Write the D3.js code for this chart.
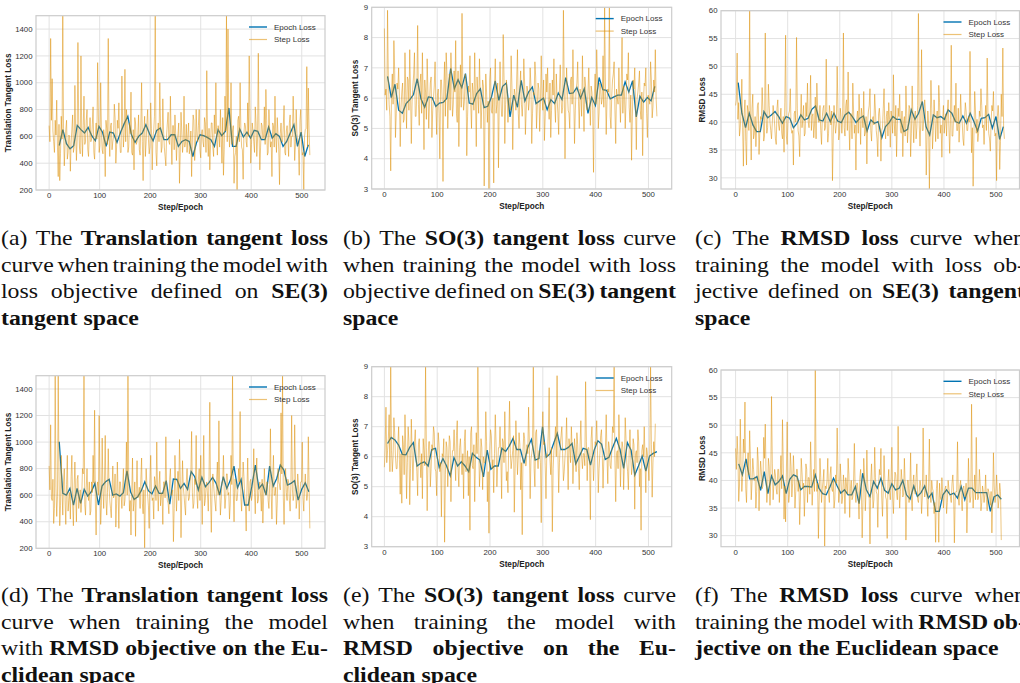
<!DOCTYPE html>
<html>
<head>
<meta charset="utf-8">
<script src="https://cdn.jsdelivr.net/npm/d3@7"></script>
<style>
    body { margin: 0; background: #fff; }
    svg { display: block; }
    .tick-label { font-family: "Liberation Sans", Arial, sans-serif; font-size: 7.8px; fill: #333; }
    .axis-label { font-family: "Liberation Sans", Arial, sans-serif; font-size: 8.2px; font-weight: bold; fill: #222; }
    .legend-label { font-family: "Liberation Sans", Arial, sans-serif; font-size: 8px; fill: #333; }
    .cap { font-family: "Liberation Serif", "Times New Roman", serif; font-size: 22px; fill: #111; }
</style>
</head>
<body>
<svg id="fig" width="1020" height="683"></svg>
<script>
// ---- data ----
// step losses are logged every 1.5 steps: "main" arrays at steps 0,3,6,...
// and "mid" arrays at steps 1.5,4.5,7.5,...
const stepInterval = 1.5;
const xTicks = [0, 100, 200, 300, 400, 500];
const transTicks = [200, 400, 600, 800, 1000, 1200, 1400];
const so3Ticks = [3, 4, 5, 6, 7, 8, 9];
const rmsdTicks = [30, 35, 40, 45, 50, 55, 60];
const seriesNames = ["Epoch Loss", "Step Loss"];

// (a) translation loss, SE(3) tangent objective
const stepA = [680,1330,1030,560,720,870,300,270,750,1500,
    380,650,430,610,340,650,480,980,420,1300,
    520,1200,450,900,560,800,450,740,580,820,
    430,700,1150,480,1000,500,650,300,660,1330,
    450,700,560,840,400,720,850,480,1050,520,
    1100,800,480,700,930,460,350,700,560,760,
    460,1000,270,750,560,800,470,850,350,640,
    1500,380,700,1000,480,880,520,380,700,560,
    900,390,680,760,420,620,250,780,480,900,
    560,480,700,520,300,760,420,800,560,800,
    440,650,520,700,1090,450,350,700,520,760,
    1000,460,620,800,400,310,900,1500,1400,520,
    1000,640,250,480,200,750,1000,520,280,700,
    560,850,1200,400,700,560,820,450,1220,350,
    700,580,820,950,460,800,520,300,680,900,
    480,620,240,700,560,830,460,680,450,760,
    600,900,420,800,560,310,800,460,200,650,
    1120,960,460];
const stepMidA = [560,720,640,480,610,520,690,470,580,660,
    530,720,480,600,550,760,520,640,580,700,
    470,610,680,540,720,500,630,560,690,480,
    610,580,760,530,640,470,600,720,540,620,
    680,500,600,740,520,660,590,480,700,630,
    560,700,520,620,480,650,740,540,610,500,
    680,560,630,450,700,580,520,660,600,750,
    480,620,560,700,520,640,450,610,780,540,
    600,680,500,620,560,700,480,640,560,520,
    690,600,470,640,580,720,520,610,680,500,
    620,560,740,480,600,660,540,700,450,620,
    580,680,520,600,740,500,640,560,700,620,
    540,680,450,600,720,560,640,500,620,680,
    520,600,760,540,640,480,700,580,620,520,
    680,600,540,720,480,640,560,700,520,600,
    740,500,620,560,680,480,640,580,700,520,
    600,680,540,620,500,720,560,480,600,660,
    520,640];
const epochA = [532,650,545,507,530,682,650,625,667,605,
    567,675,630,525,632,625,555,630,695,750,
    612,555,600,625,687,620,567,645,662,575,
    575,612,612,525,562,575,562,450,550,612,
    605,592,575,525,650,605,637,812,525,525,
    655,595,632,587,645,637,575,575,670,587,
    620,600,525,562,625,687,525,632,450,537];

// (b) SO(3) loss, SE(3) tangent objective
const stepB = [8.3,6.3,8.9,5.8,3.6,6.8,7.9,4.7,6.5,7.0,
    4.4,6.2,5.2,7.5,5.0,6.6,7.6,4.5,6.4,7.5,
    5.4,8.4,5.1,6.8,7.5,4.3,6.2,7.3,5.0,6.5,
    4.7,6.0,7.2,4.8,6.3,4.0,6.6,3.25,7.2,7.5,
    5.0,6.8,7.5,5.4,6.9,7.9,5.2,4.4,7.1,8.8,
    5.6,6.8,4.1,6.4,7.4,5.0,6.2,7.5,4.4,6.1,
    7.3,5.0,6.6,3.1,6.8,5.2,3.0,7.0,5.5,3.2,
    7.3,5.8,3.7,7.2,5.4,8.1,4.5,6.6,5.2,6.0,
    7.4,4.3,6.3,5.6,7.6,5.0,6.9,5.4,7.3,4.8,
    6.4,5.6,7.0,4.5,6.2,7.2,5.0,6.5,4.9,7.4,
    5.6,4.6,6.8,7.0,5.3,4.7,6.6,7.3,5.2,6.0,
    4.8,7.1,5.5,8.9,4.0,7.0,5.6,5.0,6.7,7.6,
    4.5,6.3,7.2,5.0,6.1,7.4,4.9,6.4,5.6,7.0,
    5.1,6.2,3.55,6.8,7.6,5.0,6.5,5.8,7.4,9.0,
    4.8,6.3,9.0,5.0,6.6,7.2,4.5,6.0,7.0,5.2,
    8.0,6.4,5.0,6.8,7.5,5.2,3.95,6.6,7.0,4.3,
    6.2,6.9,5.3,4.1,6.5,7.0,4.7,6.0,7.2,5.35,
    6.6,7.6,5.4];
const stepMidB = [6.1,5.6,6.6,5.4,6.2,5.8,6.9,5.5,6.3,6.0,
    5.7,6.5,5.3,6.1,6.7,5.6,6.2,5.9,6.8,5.4,
    6.3,5.8,6.5,5.5,6.0,6.6,5.3,6.2,5.9,6.7,
    5.6,6.4,5.8,6.1,5.5,6.6,5.9,6.3,5.4,6.8,
    6.0,5.6,6.5,5.8,6.2,5.5,6.9,6.1,5.7,6.4,
    5.9,6.6,5.4,6.2,5.8,6.5,5.6,6.0,6.7,5.5,
    6.1,5.8,6.4,5.3,6.2,5.9,6.6,5.6,6.0,6.3,
    5.5,6.5,5.9,6.1,5.4,6.7,5.8,6.2,6.0,5.6,
    6.4,5.7,6.1,6.6,5.5,6.3,5.8,6.0,6.5,5.6,
    6.2,5.9,6.4,5.5,6.1,6.7,5.7,6.3,5.8,6.0,
    6.6,5.4,6.2,5.9,6.5,5.6,6.1,5.8,6.8,5.5,
    6.3,6.0,5.7,6.4,5.9,6.2,5.5,6.6,5.8,6.1,
    5.6,6.5,5.9,6.3,5.4,6.0,6.7,5.7,6.2,5.9,
    6.4,5.6,6.1,5.8,6.6,5.5,6.3,6.0,5.7,6.5,
    5.9,6.2,5.4,6.1,6.8,5.6,6.3,5.8,6.0,6.4,
    5.5,6.2,5.9,6.6,5.7,6.1,5.4,6.3,5.8,6.0,
    6.5,5.6,6.2,5.9,6.4,5.5,6.1,5.8,6.6,5.7,
    6.2,6.0];
const epochB = [6.72,6.02,6.46,5.6,5.5,5.82,5.95,6.12,6.64,5.98,
    5.7,6.04,6.02,5.73,5.84,5.86,6.0,6.98,6.31,6.61,
    6.35,6.81,5.84,5.8,6.15,6.31,5.69,5.73,6.04,6.57,
    5.93,6.39,6.5,5.38,6.1,5.7,6.59,5.91,6.2,6.37,
    5.82,5.91,6.0,5.62,5.95,5.82,6.17,5.95,6.68,6.15,
    6.17,6.35,6.0,6.31,5.5,6.02,5.76,6.68,6.28,6.26,
    5.98,6.04,6.1,6.1,6.54,6.2,6.57,5.38,6.06,5.87,
    6.02,5.91,6.39];

// (c) RMSD loss, SE(3) tangent objective
const stepC = [43.0,52.4,43.5,39.0,47.7,32.1,44.0,32.3,42.0,60.0,
    33.2,45.0,38.0,35.6,43.0,34.2,41.0,46.2,36.6,56.0,
    38.0,46.8,40.0,37.0,43.0,39.5,36.0,44.0,38.5,42.5,
    37.0,34.6,55.6,36.0,41.5,46.0,38.0,32.3,42.0,55.2,
    38.5,33.8,45.0,40.5,37.5,43.5,47.0,39.0,48.4,41.0,
    37.2,44.5,47.0,40.0,43.0,36.0,42.5,38.5,51.3,36.4,
    43.0,39.5,29.5,43.0,38.0,50.0,36.8,42.5,38.0,56.0,
    37.5,44.0,49.0,35.0,41.5,47.0,38.0,31.4,42.0,45.0,
    36.0,41.0,45.5,38.0,32.5,42.0,46.0,36.6,41.0,45.0,
    38.5,33.8,42.5,33.0,39.0,46.0,37.0,42.0,43.5,35.5,
    40.5,48.5,37.5,33.8,42.5,45.0,38.0,33.8,41.0,46.5,
    36.3,43.0,33.8,46.5,36.3,42.0,39.0,59.5,35.7,53.0,
    38.5,44.0,30.5,42.0,28.0,47.5,35.2,44.0,36.5,42.0,
    46.6,38.0,33.7,43.0,40.0,37.5,44.0,34.4,53.8,37.5,
    43.0,47.0,38.5,36.4,45.0,40.0,35.8,43.5,38.5,41.0,
    52.7,34.5,28.5,45.5,38.0,36.5,42.0,46.0,39.0,36.0,
    43.0,51.5,38.0,34.8,43.0,45.5,37.5,29.5,43.0,31.5,
    45.0,53.3,37.0];
const stepMidC = [44.0,40.5,37.5,42.0,39.0,41.5,36.5,43.0,38.5,40.0,
    42.5,37.0,41.0,39.5,43.5,38.0,40.5,42.0,37.5,41.0,
    39.0,43.0,38.5,40.0,41.5,37.0,42.5,39.5,40.5,38.0,
    41.0,43.5,37.5,40.0,42.0,39.0,38.5,41.5,40.0,42.5,
    37.5,40.5,39.0,43.0,38.0,41.0,40.0,42.0,38.5,41.5,
    39.5,37.0,42.5,40.0,38.5,41.0,43.0,39.0,40.5,38.0,
    41.5,42.0,37.5,40.0,39.5,42.5,38.0,41.0,40.5,39.0,
    43.0,38.5,40.0,41.5,37.0,42.0,39.5,40.5,38.0,41.0,
    42.5,39.0,37.5,41.0,40.0,43.0,38.5,40.5,39.5,42.0,
    37.0,41.5,40.0,38.5,42.5,39.0,41.0,37.5,40.5,42.0,
    38.0,40.0,43.0,39.5,41.0,38.5,42.0,40.0,37.5,41.5,
    39.0,42.5,38.0,40.5,41.0,37.0,43.0,39.5,40.0,38.5,
    41.5,42.0,37.5,40.0,39.0,42.5,38.5,41.0,40.5,37.0,
    43.5,39.5,40.0,38.0,41.5,42.0,39.0,40.5,37.5,41.0,
    40.0,38.5,42.5,39.5,41.0,37.0,40.5,42.0,38.5,40.0,
    41.5,39.0,37.5,42.0,40.5,38.0,41.0,43.0,39.5,40.0,
    38.5,41.5,37.0,40.0,42.0,39.0,38.0,41.0,40.5,36.5,
    41.0,39.0];
const epochC = [47.1,41.6,39.0,41.6,39.5,38.3,38.3,41.9,40.8,41.3,
    41.9,41.0,39.8,41.0,40.7,39.0,39.8,41.3,40.4,40.7,
    42.3,42.9,40.4,40.2,41.6,40.1,41.6,40.2,39.9,41.3,
    41.8,41.0,39.9,40.7,41.1,38.4,40.4,39.8,40.1,37.2,
    39.2,39.9,41.0,40.5,40.5,38.3,38.7,42.2,40.5,41.6,
    43.7,39.2,37.7,41.3,40.8,41.0,40.5,42.2,41.6,40.1,
    39.8,41.1,39.8,41.6,40.1,38.4,40.7,40.8,41.4,38.9,
    41.0,36.9,39.2];

// (d) translation loss, RMSD objective
const stepD = [820,1130,560,387,1500,440,1500,370,900,450,
    800,380,900,560,420,900,370,850,400,750,
    560,470,800,1500,450,800,560,450,700,900,
    1240,300,700,1200,380,1030,500,1050,450,950,
    560,430,820,600,360,850,350,700,500,800,
    560,1000,1500,480,300,880,560,290,860,600,
    500,880,460,200,800,600,350,900,560,420,
    700,1000,480,780,600,380,700,1040,560,460,
    800,600,250,900,480,780,1020,280,860,600,
    450,800,560,700,1080,500,720,1050,500,800,
    900,380,1050,560,700,480,1300,320,760,600,
    480,850,1160,450,700,900,500,760,600,420,
    900,1500,400,720,560,800,1230,480,850,600,
    330,880,480,720,600,950,460,880,560,700,
    480,390,800,600,700,500,1100,420,900,600,
    380,800,680,1220,1500,380,800,560,700,480,
    1200,560,1130,500,760,420,700,1000,480,760,
    560,1040,350];
const stepMidD = [640,580,720,500,660,590,780,520,640,700,
    560,680,480,620,740,540,660,600,720,500,
    640,580,760,530,660,610,700,480,620,690,
    540,660,600,740,520,640,700,560,620,680,
    500,640,580,760,540,620,700,600,660,520,
    680,600,740,560,620,480,700,640,580,660,
    720,540,640,600,680,520,700,620,580,740,
    560,640,680,520,620,700,580,660,540,720,
    600,640,500,680,620,560,740,600,660,520,
    700,640,580,760,620,540,680,600,720,560,
    640,700,520,660,600,740,580,640,680,540,
    720,600,660,560,700,640,580,760,620,540,
    680,620,720,560,640,700,580,660,740,520,
    640,600,700,560,680,620,760,540,660,600,
    720,580,640,700,560,680,620,740,600,660,
    540,700,640,760,580,660,620,720,560,680,
    640,600,720,560,680,620,700,580,660,640,
    600,680];
const epochD = [1003,614,601,651,526,651,538,644,593,626,
    689,526,669,701,719,601,609,593,619,784,
    626,568,588,634,701,634,609,669,614,614,
    709,533,722,719,651,689,644,777,739,639,
    734,664,694,734,689,601,739,651,714,819,
    656,719,526,526,664,827,651,684,601,819,
    669,726,827,789,676,689,709,563,644,694,
    626];

// (e) SO(3) loss, RMSD objective
const stepE = [5.65,7.65,6.2,7.4,9.0,5.5,7.3,6.0,5.6,7.0,
    4.75,4.45,6.4,7.4,4.6,7.0,4.4,7.25,5.2,6.5,
    6.0,4.7,6.6,5.3,4.6,6.2,9.0,4.2,6.5,5.0,
    6.4,7.0,5.6,4.7,6.8,5.5,4.0,6.0,3.15,6.5,
    5.0,6.7,4.5,6.2,6.9,5.2,7.2,5.0,6.6,5.4,
    4.6,6.9,5.8,4.7,3.55,7.0,5.6,4.5,6.8,9.0,
    5.0,6.6,4.9,5.8,7.5,4.5,3.45,6.9,5.6,4.8,
    7.4,5.0,6.3,7.0,4.6,6.5,7.5,5.2,4.8,7.85,
    5.6,6.2,4.15,7.2,5.4,6.8,4.9,3.4,6.8,5.7,
    6.4,7.65,4.6,6.1,9.0,5.0,6.9,5.6,6.2,3.8,
    7.5,6.5,4.6,6.0,8.3,5.4,3.5,6.2,7.0,8.7,
    4.8,6.4,7.0,5.2,6.0,7.3,4.9,6.3,7.0,5.1,
    6.6,5.5,6.4,4.9,7.2,5.6,6.1,8.5,5.2,6.3,
    3.9,7.0,5.2,6.5,7.2,4.8,6.1,6.9,4.95,6.0,
    7.4,5.1,6.3,5.6,7.0,9.0,4.5,6.2,7.4,5.0,
    6.5,4.9,7.3,5.8,4.9,6.9,5.4,6.6,4.25,6.2,
    6.9,5.0,3.55,6.4,7.0,4.8,6.1,5.2,9.0,4.65,
    6.5,7.1];
const stepMidE = [6.3,5.8,6.6,5.5,6.2,6.0,6.8,5.6,6.4,5.9,
    6.1,6.7,5.4,6.3,5.8,6.5,5.6,6.2,6.0,6.9,
    5.5,6.4,5.9,6.1,6.6,5.7,6.3,5.8,6.5,5.6,
    6.2,6.8,5.5,6.0,6.4,5.8,6.1,6.6,5.4,6.3,
    5.9,6.5,5.7,6.2,6.0,6.7,5.6,6.3,5.9,6.1,
    6.5,5.5,6.2,6.0,6.8,5.7,6.4,5.9,6.1,6.6,
    5.6,6.3,6.0,5.8,6.5,5.5,6.2,6.7,5.9,6.1,
    6.4,5.7,6.3,6.0,6.6,5.8,6.2,5.5,6.5,6.1,
    5.9,6.7,5.6,6.3,6.0,6.4,5.8,6.2,6.6,5.7,
    6.1,6.5,5.9,6.3,5.6,6.8,6.0,6.2,5.8,6.6,
    6.4,5.7,6.1,6.9,5.9,6.3,5.6,6.5,6.0,6.2,
    5.8,6.7,6.1,5.5,6.4,6.0,6.6,5.8,6.3,5.9,
    6.2,6.8,5.6,6.4,6.0,6.1,5.7,6.5,6.3,5.9,
    6.6,6.0,5.8,6.4,6.2,5.6,6.7,6.1,5.9,6.3,
    6.0,6.5,5.7,6.2,6.8,5.9,6.1,5.6,6.4,6.0,
    6.3,5.8,6.6,5.5,6.2,6.0,5.7,6.4,6.1,5.8,
    6.5,5.6,6.2,6.0,5.9,6.3,5.7,6.1,6.4,5.8,
    6.0];
const epochE = [6.44,6.64,6.56,6.39,6.08,6.06,6.31,6.47,5.69,5.78,
    5.83,5.69,6.24,6.28,5.64,5.94,5.69,5.36,5.97,5.69,
    5.83,5.69,5.5,6.11,5.98,5.89,5.33,6.22,5.58,5.69,
    5.69,6.28,6.17,6.36,6.61,6.24,6.24,5.78,6.31,6.58,
    5.89,5.94,7.0,5.98,6.09,6.44,6.78,6.24,6.24,6.31,
    6.44,5.76,6.02,6.28,6.24,5.72,6.22,6.53,6.42,5.91,
    5.98,6.31,6.61,6.24,5.61,6.47,6.22,5.39,5.69,6.02,
    5.52,6.02,6.11,6.17];

// (f) RMSD loss, RMSD objective
const stepF = [45.8,48.0,36.2,51.1,38.0,47.5,54.2,36.0,45.0,49.0,
    36.5,44.0,40.0,35.0,46.0,34.5,43.5,38.5,47.8,50.2,
    36.0,44.0,35.5,55.2,36.5,42.0,38.5,42.0,36.0,44.5,
    51.0,33.0,32.5,50.6,36.0,45.0,37.0,44.5,35.0,42.0,
    38.0,32.0,44.0,38.5,33.5,43.0,36.0,40.5,47.0,35.5,
    42.0,60.0,38.0,29.5,44.0,36.0,40.0,28.0,38.5,44.0,
    36.0,42.5,38.0,35.0,41.0,49.5,36.0,43.0,35.8,41.0,
    34.0,39.0,44.0,33.3,40.0,37.0,46.7,36.0,39.5,33.0,
    42.0,29.6,44.0,34.5,45.5,37.0,28.5,43.0,35.0,46.0,
    38.0,31.5,42.0,45.8,33.5,44.5,37.0,29.5,42.0,36.5,
    46.0,34.0,41.5,38.0,49.8,35.0,42.0,37.0,44.0,29.2,
    40.0,36.0,45.0,34.5,41.0,37.5,43.0,36.0,40.0,34.0,
    49.5,37.0,41.0,33.5,47.5,36.0,38.5,34.0,28.8,40.0,
    28.8,37.0,40.5,35.0,38.5,34.0,40.0,37.5,36.0,41.0,
    28.7,38.0,47.0,35.5,40.0,34.5,39.0,37.0,30.5,44.0,
    36.0,53.8,35.0,41.0,47.8,36.5,42.0,34.5,39.0,36.0,
    41.0,34.5,38.0,35.5,30.5,45.0,36.0,41.0,35.0,39.5,
    29.2];
const stepMidF = [42.0,44.5,39.0,43.0,40.5,45.0,38.5,42.5,41.0,44.0,
    39.5,42.0,40.5,38.0,43.5,40.0,41.5,39.0,44.0,41.0,
    38.5,42.5,40.0,43.0,39.5,41.0,37.5,42.0,40.5,38.5,
    43.0,39.0,41.5,40.0,37.5,42.5,39.5,41.0,38.0,42.0,
    40.0,37.0,41.5,39.5,38.0,42.0,40.5,37.5,41.0,39.0,
    38.0,41.5,39.5,37.0,40.5,38.5,42.0,39.0,40.0,37.5,
    41.0,38.5,40.0,36.5,39.5,41.5,38.0,40.0,37.0,39.0,
    40.5,37.5,41.0,38.5,36.5,40.0,38.0,39.5,37.0,40.5,
    38.5,36.0,41.0,38.0,39.5,37.0,40.0,38.5,36.5,40.5,
    37.5,39.0,41.0,37.0,38.5,40.0,36.5,39.5,38.0,40.5,
    37.0,38.5,41.0,36.5,39.0,38.0,40.0,37.5,39.5,36.5,
    40.0,38.5,37.0,39.5,38.0,40.5,36.5,38.0,39.0,37.0,
    39.5,38.0,36.5,39.0,37.5,40.0,38.0,36.0,38.5,37.0,
    39.5,36.5,38.0,37.5,39.0,36.0,38.5,37.0,39.5,38.0,
    36.5,38.0,37.0,39.0,36.5,38.5,37.5,39.5,36.0,38.0,
    37.0,39.0,38.0,36.5,38.5,37.0,39.5,36.0,38.0,37.5,
    36.5,38.5,37.0,38.0,36.0,39.0,37.5,38.0,36.5,38.0];
const epochF = [43.0,41.0,43.9,40.3,40.3,40.7,38.2,41.6,37.6,40.8,
    39.2,39.8,40.8,37.6,40.2,41.0,40.7,38.3,38.9,38.9,
    38.8,41.0,38.6,37.6,37.4,38.8,40.4,39.0,37.7,38.3,
    37.4,37.4,38.9,35.8,41.3,38.3,37.1,39.8,38.6,40.4,
    38.2,37.7,39.4,38.3,38.6,40.0,37.4,36.6,39.0,37.1,
    37.8,39.0,36.8,37.7,34.4,34.4,37.4,38.3,37.4,37.7,
    36.8,38.9,36.5,38.6,38.6,37.8,37.8,37.8,37.8,34.4,
    37.0,37.4,36.6];

// first and last step at which an epoch value was logged
const epochSpanA = [20, 513], epochSpanB = [6, 512], epochSpanC = [5, 514];
const epochSpanD = [20, 514], epochSpanE = [6, 516], epochSpanF = [6, 510];

// ---- captions ----
const captions = [
    {x: 1, y: 245, w: 327, lines: [
        [["(a) The ", 0], ["Translation tangent loss", 1]],
        [["curve when training the model with", 0]],
        [["loss objective defined on ", 0], ["SE(3)", 1]],
        [["tangent space", 1]]]},
    {x: 343, y: 245, w: 333, lines: [
        [["(b) The ", 0], ["SO(3) tangent loss", 1], [" curve", 0]],
        [["when training the model with loss", 0]],
        [["objective defined on ", 0], ["SE(3) tangent", 1]],
        [["space", 1]]]},
    {x: 695, y: 245, w: 330, lines: [
        [["(c) The ", 0], ["RMSD loss", 1], [" curve when", 0]],
        [["training the model with loss ob-", 0]],
        [["jective defined on ", 0], ["SE(3) tangent", 1]],
        [["space", 1]]]},
    {x: 1, y: 602, w: 327, lines: [
        [["(d) The ", 0], ["Translation tangent loss", 1]],
        [["curve when training the model", 0]],
        [["with ", 0], ["RMSD objective on the Eu-", 1]],
        [["clidean space", 1]]]},
    {x: 343, y: 602, w: 333, lines: [
        [["(e) The ", 0], ["SO(3) tangent loss", 1], [" curve", 0]],
        [["when training the model with", 0]],
        [["RMSD objective on the Eu-", 1]],
        [["clidean space", 1]]]},
    {x: 695, y: 602, w: 331, lines: [
        [["(f) The ", 0], ["RMSD loss", 1], [" curve when", 0]],
        [["training the model with ", 0], ["RMSD ob-", 1]],
        [["jective on the Euclidean space", 1]]]}
];

// ---- layout ----
const colors = {epoch: "#0173b2", step: "#de8f05"};
const panels = [
    {step: stepA, mid: stepMidA, epoch: epochA, span: epochSpanA, yDomain: [200, 1500], yTicks: transTicks, yLabel: "Translation Tangent Loss",
        box: {l: 36, r: 325, t: 15.7, b: 190}, xDomain: [-26, 546], yLabelX: 11},
    {step: stepB, mid: stepMidB, epoch: epochB, span: epochSpanB, yDomain: [3, 9], yTicks: so3Ticks, yLabel: "SO(3) Tangent Loss",
        box: {l: 371.7, r: 671.7, t: 7.3, b: 189}, xDomain: [-24, 544], yLabelX: 358},
    {step: stepC, mid: stepMidC, epoch: epochC, span: epochSpanC, yDomain: [28, 60], yTicks: rmsdTicks, yLabel: "RMSD Loss",
        box: {l: 721, r: 1019.5, t: 10.7, b: 189}, xDomain: [-28, 545], yLabelX: 705},
    {step: stepD, mid: stepMidD, epoch: epochD, span: epochSpanD, yDomain: [200, 1500], yTicks: transTicks, yLabel: "Translation Tangent Loss",
        box: {l: 36, r: 325, t: 375.7, b: 548.3}, xDomain: [-26, 546], yLabelX: 11},
    {step: stepE, mid: stepMidE, epoch: epochE, span: epochSpanE, yDomain: [3, 9], yTicks: so3Ticks, yLabel: "SO(3) Tangent Loss",
        box: {l: 371.7, r: 671.7, t: 366.7, b: 546.7}, xDomain: [-24, 544], yLabelX: 358},
    {step: stepF, mid: stepMidF, epoch: epochF, span: epochSpanF, yDomain: [28, 60], yTicks: rmsdTicks, yLabel: "RMSD Loss",
        box: {l: 721, r: 1019.5, t: 370, b: 546.7}, xDomain: [-28, 545], yLabelX: 705}
];

const svg = d3.select("#fig");
const defs = svg.append("defs");

panels.forEach((p, k) => {
    const bx = p.box;
    const x = d3.scaleLinear().domain(p.xDomain).range([bx.l, bx.r]);
    const y = d3.scaleLinear().domain(p.yDomain).range([bx.b, bx.t]);
    const g = svg.append("g");

    defs.append("clipPath").attr("id", "clip" + k)
        .append("rect")
        .attr("x", bx.l).attr("y", bx.t)
        .attr("width", bx.r - bx.l).attr("height", bx.b - bx.t);

    // grid
    g.append("g").selectAll("line").data(xTicks).join("line")
        .attr("x1", d => x(d)).attr("x2", d => x(d))
        .attr("y1", bx.t).attr("y2", bx.b)
        .attr("stroke", "#e2e2e2").attr("stroke-width", 1);
    g.append("g").selectAll("line").data(p.yTicks).join("line")
        .attr("x1", bx.l).attr("x2", bx.r)
        .attr("y1", d => y(d)).attr("y2", d => y(d))
        .attr("stroke", "#e2e2e2").attr("stroke-width", 1);

    // interleave main and mid step values
    const stepVals = [];
    p.step.forEach((v, i) => {
        stepVals.push(v);
        if (i < p.mid.length) stepVals.push(p.mid[i]);
    });

    const epochPts = p.epoch.map((v, i) => [p.span[0] + i * (p.span[1] - p.span[0]) / (p.epoch.length - 1), v]);
    const stepPts = stepVals.map((v, i) => [i * stepInterval, v]);
    const line = d3.line().x(d => x(d[0])).y(d => y(d[1]));
    const plot = g.append("g").attr("clip-path", `url(#clip${k})`);
    plot.append("path").datum(epochPts)
        .attr("d", line).attr("fill", "none")
        .attr("stroke", colors.epoch).attr("stroke-width", 1.3);
    plot.append("path").datum(stepPts)
        .attr("d", line).attr("fill", "none")
        .attr("stroke", colors.step).attr("stroke-opacity", 0.5).attr("stroke-width", 1)
        .attr("stroke-linejoin", "round");

    // frame
    g.append("rect")
        .attr("x", bx.l).attr("y", bx.t)
        .attr("width", bx.r - bx.l).attr("height", bx.b - bx.t)
        .attr("fill", "none").attr("stroke", "#cccccc").attr("stroke-width", 1.2);

    // tick labels
    g.append("g").selectAll("text").data(xTicks).join("text")
        .attr("class", "tick-label")
        .attr("x", d => x(d)).attr("y", bx.b + 8)
        .attr("text-anchor", "middle")
        .text(d => d);
    g.append("g").selectAll("text").data(p.yTicks).join("text")
        .attr("class", "tick-label")
        .attr("x", bx.l - 3.5).attr("y", d => y(d))
        .attr("dy", "0.35em")
        .attr("text-anchor", "end")
        .text(d => d);

    // axis labels
    g.append("text").attr("class", "axis-label")
        .attr("x", (bx.l + bx.r) / 2).attr("y", bx.b + 20)
        .attr("text-anchor", "middle")
        .text("Step/Epoch");
    g.append("text").attr("class", "axis-label")
        .attr("transform", `translate(${p.yLabelX}, ${(bx.t + bx.b) / 2}) rotate(-90)`)
        .attr("text-anchor", "middle")
        .text(p.yLabel);

    // legend
    const lg = g.append("g").attr("transform", `translate(${bx.r - 76}, ${bx.t + 11.3})`);
    seriesNames.forEach((name, i) => {
        const isStep = i === 1;
        lg.append("line")
            .attr("x1", 0).attr("x2", 18)
            .attr("y1", i * 12.5).attr("y2", i * 12.5)
            .attr("stroke", isStep ? colors.step : colors.epoch)
            .attr("stroke-opacity", isStep ? 0.55 : 1)
            .attr("stroke-width", isStep ? 1.2 : 1.4);
        lg.append("text").attr("class", "legend-label")
            .attr("x", 25).attr("y", i * 12.5)
            .attr("dy", "0.35em")
            .text(name);
    });
});

// captions, justified word by word; the source figure is slightly wider than tall
const hScale = 1.08;
const capG = svg.append("g");
captions.forEach(c => {
    c.lines.forEach((segs, li) => {
        const last = li === c.lines.length - 1;
        const words = [];
        segs.forEach(([t, b]) => t.split(" ").filter(w => w).forEach(w => words.push({w, b})));
        const yPos = c.y + li * 26.7;
        const text = capG.append("text").attr("class", "cap").attr("y", yPos);
        const spans = words.map(d => text.append("tspan")
            .attr("font-weight", d.b ? "bold" : "normal")
            .text(d.w));
        const widths = spans.map(s => s.node().getComputedTextLength());
        const total = d3.sum(widths);
        const normalGap = 22 * 0.25;
        const target = c.w / hScale;
        let gap = normalGap, sx = hScale;
        if (!last && words.length > 1) {
            gap = (target - total) / (words.length - 1);
            if (gap < normalGap * 0.5) {
                gap = normalGap * 0.5;
                sx = c.w / (total + gap * (words.length - 1));
            }
        }
        let xPos = c.x;
        spans.forEach((s, i) => {
            s.attr("x", xPos);
            if (i < spans.length - 1) s.text(words[i].w + " ");
            xPos += widths[i] + gap;
        });
        text.attr("transform", `translate(${c.x},0) scale(${sx},1) translate(${-c.x},0)`);
    });
});
</script>
</body>
</html>
